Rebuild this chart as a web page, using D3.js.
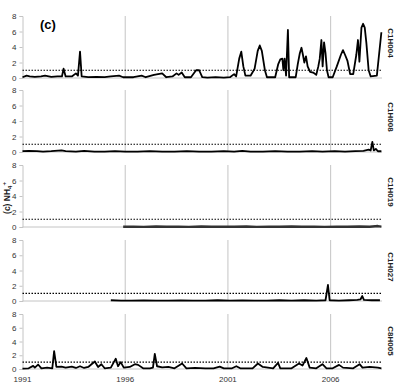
<!DOCTYPE html>
<html>
<head>
<meta charset="utf-8">
<script src="https://cdn.jsdelivr.net/npm/d3@7"></script>
<style>
  body { margin: 0; background: #fff; }
  svg { display: block; font-family: Arial, 'Liberation Sans', sans-serif; }
</style>
</head>
<body>
<svg id="chart" width="396" height="392"></svg>
<script>
var stations = ['C1H004', 'C1H008', 'C1H019', 'C1H027', 'C8H005'];
var yTicks = [0, 2, 4, 6, 8];
var xTicks = [1991, 1996, 2001, 2006];
var threshold = 1;

var c1h004 = [
  [1991.0, 0.1], [1991.2, 0.3], [1991.35, 0.2], [1991.6, 0.15], [1991.9, 0.2],
  [1992.1, 0.3], [1992.4, 0.15], [1992.7, 0.2], [1992.92, 0.2], [1993.0, 1.2],
  [1993.1, 0.2], [1993.4, 0.2], [1993.6, 0.6], [1993.7, 0.3], [1993.8, 3.4],
  [1993.88, 0.2], [1994.2, 0.1], [1994.6, 0.15], [1995.0, 0.1], [1995.3, 0.2],
  [1995.7, 0.3], [1995.9, 0.1], [1996.4, 0.1], [1996.8, 0.3], [1997.0, 0.1],
  [1997.4, 0.4], [1997.6, 0.5], [1997.8, 0.6], [1998.0, 0.1], [1998.3, 0.2],
  [1998.5, 0.6], [1998.6, 0.4], [1998.75, 0.7], [1998.9, 0.1], [1999.2, 0.1],
  [1999.45, 1.0], [1999.6, 1.0], [1999.75, 0.1], [2000.0, 0.05], [2000.4, 0.1],
  [2000.8, 0.05], [2001.1, 0.1], [2001.3, 0.5], [2001.4, 0.2], [2001.55, 2.5],
  [2001.65, 3.4], [2001.75, 1.5], [2001.85, 0.3], [2002.1, 0.3], [2002.3, 1.2],
  [2002.45, 3.5], [2002.55, 4.2], [2002.65, 3.5], [2002.8, 1.0], [2002.9, 0.1],
  [2003.3, 0.1], [2003.45, 1.8], [2003.55, 2.4], [2003.65, 2.5], [2003.7, 1.0],
  [2003.76, 2.5], [2003.83, 0.3], [2003.92, 6.2], [2003.98, 0.1], [2004.3, 0.1],
  [2004.4, 1.8], [2004.5, 3.2], [2004.58, 3.9], [2004.65, 3.0], [2004.72, 2.0],
  [2004.8, 2.8], [2004.88, 1.5], [2005.0, 0.8], [2005.15, 0.7], [2005.3, 0.4],
  [2005.4, 1.5], [2005.47, 2.5], [2005.55, 4.9], [2005.61, 1.5], [2005.68, 4.6],
  [2005.75, 3.2], [2005.82, 1.0], [2005.9, 0.1], [2006.1, 0.1], [2006.3, 1.5],
  [2006.5, 3.0], [2006.6, 3.6], [2006.7, 3.0], [2006.82, 2.2], [2006.95, 0.5],
  [2007.1, 0.5], [2007.25, 3.0], [2007.33, 4.9], [2007.4, 2.1], [2007.5, 6.5],
  [2007.58, 7.0], [2007.66, 6.5], [2007.74, 4.5], [2007.85, 1.0], [2007.95, 0.2],
  [2008.25, 0.3], [2008.47, 5.9]
];

var c1h008 = [
  [1991.0, 0.1], [1991.3, 0.15], [1991.7, 0.1], [1992.0, 0.05], [1992.4, 0.1],
  [1992.9, 0.2], [1993.1, 0.1], [1993.6, 0.05], [1994.0, 0.15], [1994.5, 0.05],
  [1995.0, 0.05], [1995.5, 0.1], [1996.0, 0.05], [1996.6, 0.05], [1997.2, 0.1],
  [1997.8, 0.05], [1998.4, 0.05], [1999.0, 0.1], [1999.6, 0.05], [2000.2, 0.05],
  [2000.8, 0.1], [2001.3, 0.05], [2001.7, 0.15], [2002.1, 0.05], [2002.7, 0.05],
  [2003.3, 0.1], [2003.9, 0.05], [2004.5, 0.05], [2005.1, 0.1], [2005.6, 0.05],
  [2006.2, 0.1], [2006.7, 0.05], [2007.2, 0.1], [2007.6, 0.15], [2007.85, 0.3],
  [2007.95, 0.2], [2008.03, 1.3], [2008.1, 0.2], [2008.2, 0.4], [2008.3, 0.1],
  [2008.47, 0.1]
];

var c1h019 = [
  [1995.9, 0.03], [1996.4, 0.05], [1996.9, 0.02], [1997.5, 0.06], [1998.0, 0.03],
  [1998.6, 0.05], [1999.1, 0.02], [1999.7, 0.06], [2000.2, 0.03], [2000.8, 0.05],
  [2001.3, 0.03], [2001.9, 0.06], [2002.4, 0.02], [2003.0, 0.05], [2003.5, 0.03],
  [2004.1, 0.06], [2004.6, 0.03], [2005.2, 0.05], [2005.7, 0.02], [2006.3, 0.05],
  [2006.8, 0.03], [2007.4, 0.06], [2007.9, 0.03], [2008.3, 0.12], [2008.47, 0.05]
];

var c1h027 = [
  [1995.3, 0.1], [1995.8, 0.05], [1996.3, 0.05], [1996.9, 0.08], [1997.5, 0.05],
  [1998.1, 0.05], [1998.7, 0.08], [1999.3, 0.05], [1999.9, 0.05], [2000.5, 0.1],
  [2001.1, 0.05], [2001.7, 0.08], [2002.3, 0.05], [2002.9, 0.05], [2003.5, 0.1],
  [2004.1, 0.05], [2004.7, 0.1], [2005.3, 0.05], [2005.75, 0.1], [2005.87, 2.1],
  [2005.95, 0.1], [2006.4, 0.05], [2006.9, 0.1], [2007.3, 0.15], [2007.45, 0.2],
  [2007.54, 0.65], [2007.62, 0.15], [2008.0, 0.1], [2008.4, 0.1]
];

var c8h005 = [
  [1991.0, 0.05], [1991.3, 0.1], [1991.52, 0.45], [1991.6, 0.2], [1991.76, 0.65],
  [1991.92, 0.1], [1992.2, 0.2], [1992.45, 0.1], [1992.54, 2.6], [1992.65, 0.3],
  [1992.9, 0.35], [1993.1, 0.2], [1993.4, 0.35], [1993.6, 0.15], [1993.8, 0.4],
  [1994.0, 0.15], [1994.2, 0.3], [1994.52, 1.1], [1994.68, 0.3], [1994.84, 0.7],
  [1995.0, 0.1], [1995.3, 0.2], [1995.54, 1.5], [1995.65, 0.4], [1995.78, 1.0],
  [1995.93, 0.2], [1996.22, 0.3], [1996.47, 0.7], [1996.63, 0.6], [1996.87, 0.1],
  [1997.2, 0.1], [1997.35, 0.2], [1997.44, 2.2], [1997.55, 0.4], [1997.8, 0.25],
  [1998.1, 0.3], [1998.4, 0.1], [1998.77, 0.8], [1998.98, 0.1], [1999.4, 0.15],
  [1999.9, 0.1], [2000.3, 0.1], [2000.6, 0.35], [2000.8, 0.1], [2001.2, 0.1],
  [2001.41, 0.4], [2001.6, 0.1], [2002.2, 0.1], [2002.46, 0.8], [2002.7, 0.3],
  [2003.2, 0.1], [2003.44, 0.9], [2003.55, 0.1], [2004.1, 0.1], [2004.46, 0.8],
  [2004.63, 0.5], [2004.82, 1.6], [2004.98, 0.2], [2005.3, 0.1], [2005.6, 0.7],
  [2005.8, 0.1], [2006.1, 0.1], [2006.41, 0.6], [2006.6, 0.2], [2007.1, 0.1],
  [2007.41, 0.7], [2007.55, 0.2], [2007.9, 0.3], [2008.3, 0.2], [2008.47, 0.1]
];

var series = [c1h004, c1h008, c1h019, c1h027, c8h005];

var svg = d3.select('#chart');
var left = 22.5, right = 382;
var panelTops = [16, 90, 165, 240, 314];
var panelHeights = [62, 62, 62, 61, 55];

var x = d3.scaleLinear().domain([1991, 2008.5]).range([left, right]);

function drawPanel(i) {
  var top = panelTops[i], h = panelHeights[i];
  var y = d3.scaleLinear().domain([0, 8]).range([top + h, top]);
  var g = svg.append('g').attr('class', 'panel');

  g.selectAll('.grid')
    .data(xTicks.slice(1))
    .enter().append('line')
    .attr('x1', function(d) { return x(d); })
    .attr('x2', function(d) { return x(d); })
    .attr('y1', top)
    .attr('y2', top + h)
    .attr('stroke', '#c4c4c4')
    .attr('stroke-width', 1);

  var yAxis = g.append('g')
    .attr('transform', 'translate(' + left + ',0)')
    .call(d3.axisLeft(y).tickValues(yTicks).tickSize(3).tickPadding(3));
  yAxis.select('.domain').attr('stroke', '#c4c4c4');
  yAxis.selectAll('.tick line').attr('stroke', '#c4c4c4');
  yAxis.selectAll('text')
    .attr('font-size', 8)
    .attr('font-family', 'Arial, Liberation Sans, sans-serif')
    .attr('fill', '#333');

  g.append('line')
    .attr('x1', left).attr('x2', right)
    .attr('y1', y(0)).attr('y2', y(0))
    .attr('stroke', '#c4c4c4');

  g.append('line')
    .attr('x1', left).attr('x2', right)
    .attr('y1', y(threshold)).attr('y2', y(threshold))
    .attr('stroke', '#000')
    .attr('stroke-width', 1.1)
    .attr('stroke-dasharray', '1.5,1.5');

  var line = d3.line()
    .x(function(d) { return x(d[0]); })
    .y(function(d) { return y(d[1]); });

  g.append('path')
    .datum(series[i])
    .attr('d', line)
    .attr('fill', 'none')
    .attr('stroke', i === 2 ? '#333' : '#000')
    .attr('stroke-width', i === 2 ? 2.4 : 1.8)
    .attr('stroke-linejoin', 'round');

  g.append('text')
    .attr('transform', 'translate(388,' + (top + 27) + ') rotate(90)')
    .attr('text-anchor', 'middle')
    .attr('font-size', 8)
    .attr('font-weight', 'bold')
    .attr('fill', '#222')
    .text(stations[i]);

  return y;
}

stations.forEach(function(s, i) { drawPanel(i); });

var lastBottom = panelTops[4] + panelHeights[4];
svg.append('g')
  .selectAll('text')
  .data(xTicks)
  .enter().append('text')
  .attr('x', function(d) { return x(d); })
  .attr('y', lastBottom + 13)
  .attr('text-anchor', 'middle')
  .attr('font-size', 8)
  .attr('fill', '#333')
  .text(function(d) { return d; });

svg.append('text')
  .attr('x', 40)
  .attr('y', 29)
  .attr('font-size', 13)
  .attr('font-weight', 'bold')
  .text('(c)');

var yLabel = svg.append('text')
  .attr('transform', 'translate(10,198) rotate(-90)')
  .attr('text-anchor', 'middle')
  .attr('font-size', 8.5)
  .attr('font-weight', 'bold')
  .attr('fill', '#222');
yLabel.append('tspan').text('(c) NH');
yLabel.append('tspan').attr('font-size', 6).attr('dy', 2).text('4');
yLabel.append('tspan').attr('font-size', 6).attr('dy', -6).text('+');
</script>
</body>
</html>
